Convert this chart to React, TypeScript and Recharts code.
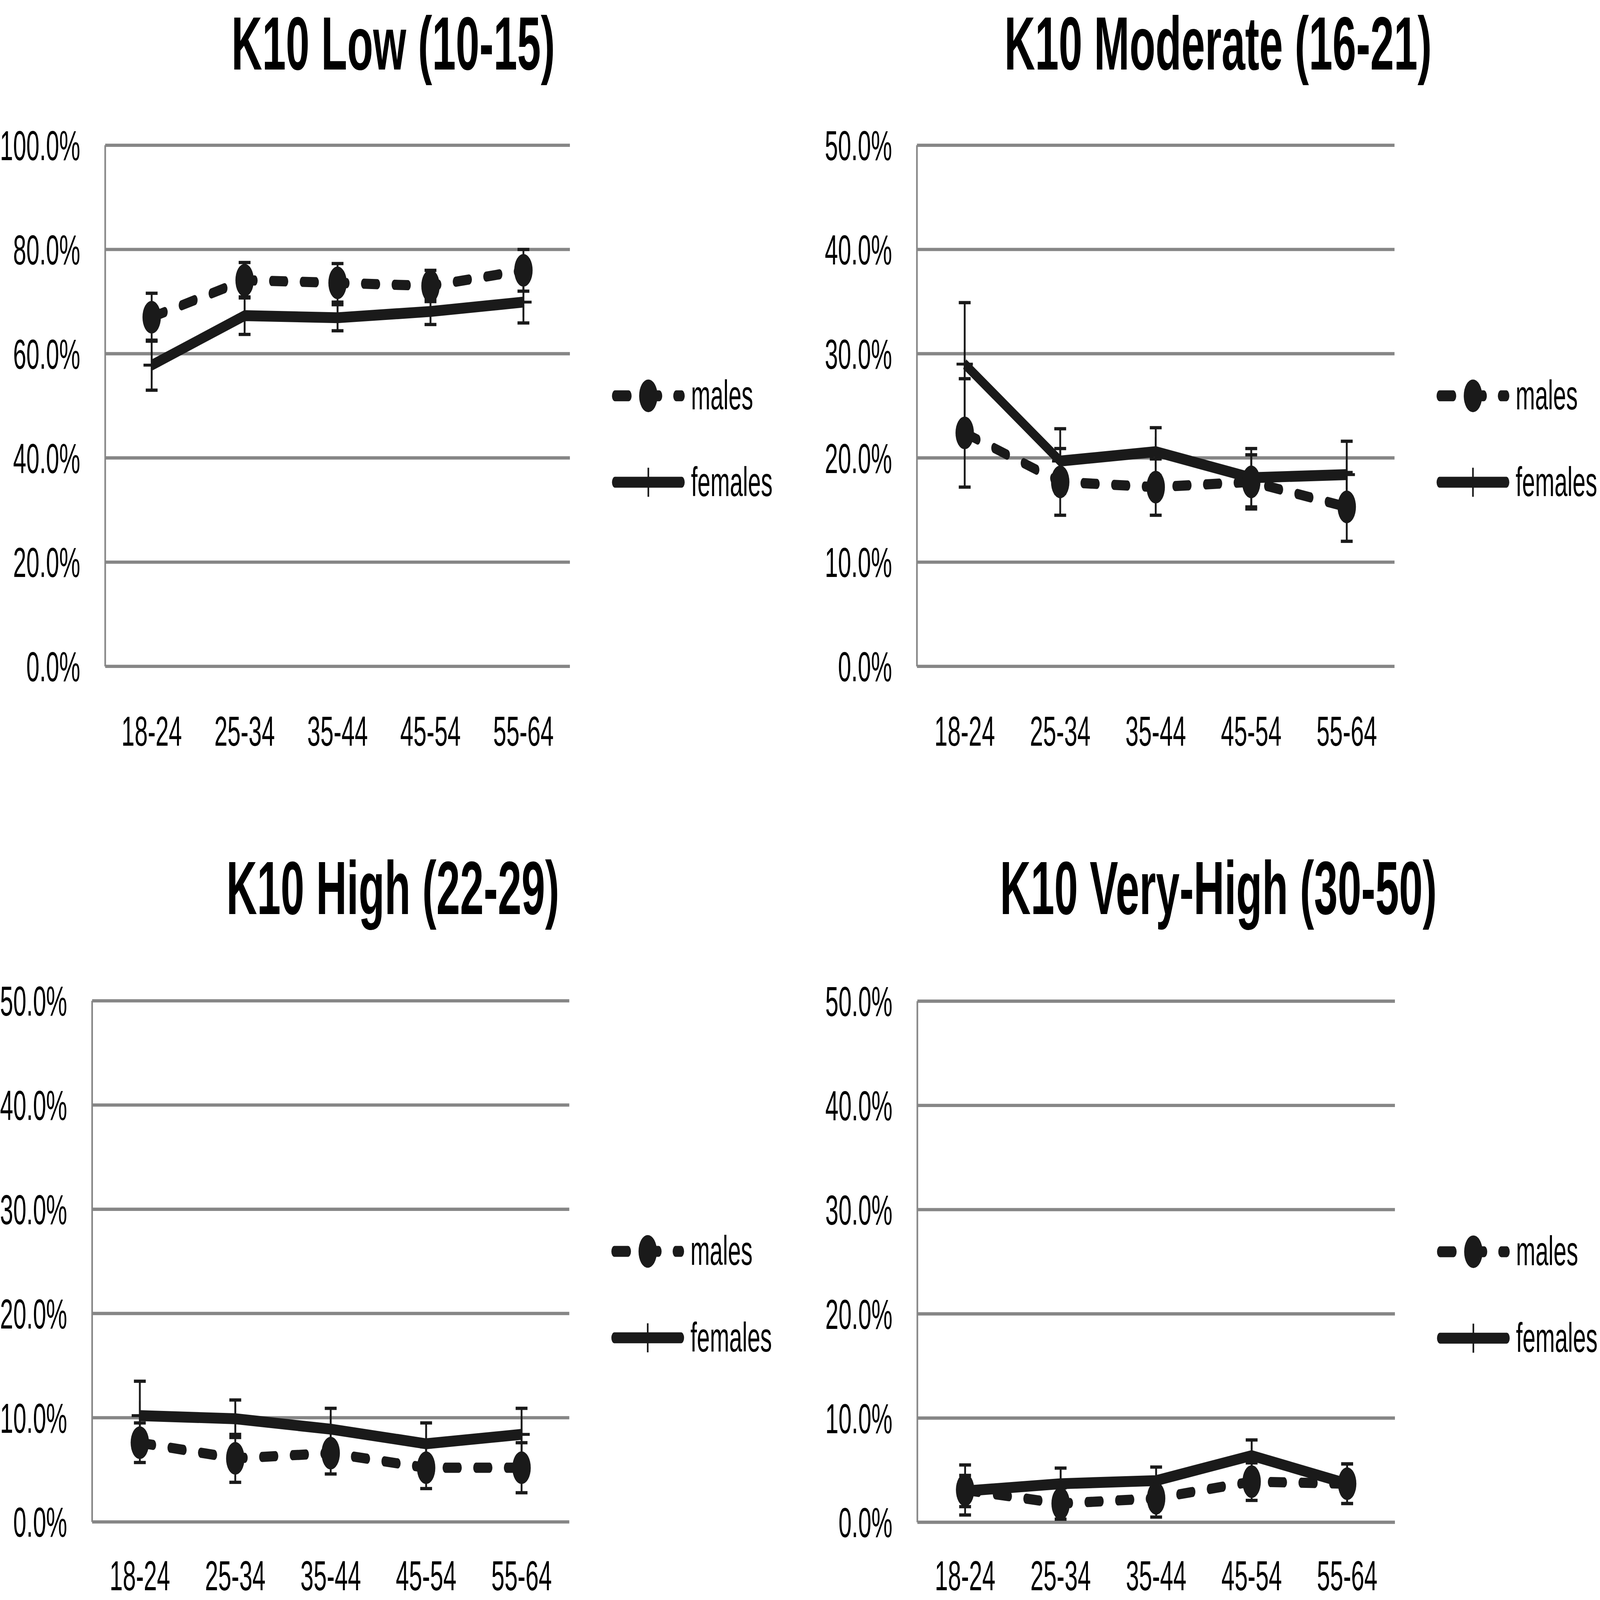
import React from 'react';
import { LineChart, Line, XAxis, YAxis, CartesianGrid, ErrorBar, Legend } from 'recharts';

if (typeof document !== 'undefined') {
  document.body.style.margin = '0';
  document.body.style.overflow = 'hidden';
}

// ---------- data ----------
const ageGroups = ['18-24', '25-34', '35-44', '45-54', '55-64'];

const lowMales = [67.0, 74.1, 73.6, 73.0, 76.0];
const lowMalesErr = [4.6, 3.4, 3.7, 3.0, 4.0];
const lowFemales = [57.8, 67.3, 66.9, 68.1, 69.9];
const lowFemalesErr = [4.8, 3.6, 2.5, 2.5, 4.0];

const modMales = [22.4, 17.7, 17.2, 17.7, 15.3];
const modMalesErr = [5.2, 3.2, 2.7, 2.6, 3.3];
const modFemales = [29.0, 19.7, 20.6, 18.1, 18.4];
const modFemalesErr = [5.9, 3.1, 2.3, 2.8, 3.2];

const highMales = [7.6, 6.1, 6.6, 5.2, 5.2];
const highMalesErr = [1.9, 2.3, 2.0, 2.0, 2.4];
const highFemales = [10.2, 9.9, 8.9, 7.5, 8.4];
const highFemalesErr = [3.3, 1.8, 2.0, 2.0, 2.5];

const vhMales = [3.1, 1.8, 2.3, 3.9, 3.7];
const vhMalesErr = [2.4, 1.5, 1.8, 1.8, 1.9];
const vhFemales = [3.0, 3.7, 4.0, 6.4, 3.7];
const vhFemalesErr = [1.5, 1.5, 1.3, 1.5, 1.9];

const lowTicks = [0, 20, 40, 60, 80, 100];
const otherTicks = [0, 10, 20, 30, 40, 50];

const titles = ['K10 Low (10-15)', 'K10 Moderate (16-21)', 'K10 High (22-29)', 'K10 Very-High (30-50)'];
const seriesNames = ['males', 'females'];

// ---------- styles ----------
const FONT = "'Liberation Sans', Arial, sans-serif";
const INK = '#1a1a1a';
const GRID = '#868686';
const PAGE_W = 7833;
const PAGE_H = 4406;

function buildRows(m: number[], me: number[], f: number[], fe: number[]) {
  return ageGroups.map((age, i) => ({
    age,
    males: m[i],
    malesErr: me[i],
    females: f[i],
    femalesErr: fe[i],
  }));
}

const panels = [
  {
    title: titles[0],
    rows: buildRows(lowMales, lowMalesErr, lowFemales, lowFemalesErr),
    ticks: lowTicks,
    box: { L: 0, T: 0, W: 3900, H: 2200 },
    plot: { x0: 515, x1: 2790, y0: 400, y1: 1835 },
    xTickMargin: 136,
    titleX: 1925,
    titleY: 192,
  },
  {
    title: titles[1],
    rows: buildRows(modMales, modMalesErr, modFemales, modFemalesErr),
    ticks: otherTicks,
    box: { L: 3900, T: 0, W: 3933, H: 2200 },
    plot: { x0: 4489, x1: 6827, y0: 400, y1: 1835 },
    xTickMargin: 136,
    titleX: 5963,
    titleY: 192,
  },
  {
    title: titles[2],
    rows: buildRows(highMales, highMalesErr, highFemales, highFemalesErr),
    ticks: otherTicks,
    box: { L: 0, T: 2200, W: 3900, H: 2206 },
    plot: { x0: 451, x1: 2787, y0: 2756, y1: 4191 },
    xTickMargin: 106,
    titleX: 1923,
    titleY: 2517,
  },
  {
    title: titles[3],
    rows: buildRows(vhMales, vhMalesErr, vhFemales, vhFemalesErr),
    ticks: otherTicks,
    box: { L: 3900, T: 2200, W: 3933, H: 2206 },
    plot: { x0: 4491, x1: 6829, y0: 2757, y1: 4192 },
    xTickMargin: 105,
    titleX: 5965,
    titleY: 2517,
  },
];

const PlusDot = (props: any) => {
  const { cx, cy, index } = props;
  if (cx == null || cy == null) return <g key={`fd${index}`} />;
  return (
    <g key={`fd${index}`}>
      <line x1={cx} y1={cy - 40} x2={cx} y2={cy + 40} stroke={INK} strokeWidth={8} />
      <line x1={cx - 40} y1={cy} x2={cx + 40} y2={cy} stroke={INK} strokeWidth={8} />
    </g>
  );
};

const LegendBox = () => (
  <svg width={800} height={420} style={{ overflow: 'visible', display: 'block' }}>
    <line x1={31} y1={90} x2={357} y2={90} stroke={INK} strokeWidth={30} strokeDasharray="66 84" strokeLinecap="round" />
    <circle cx={194} cy={90} r={45} fill={INK} />
    <text x={403} y={127} fontSize={114} fontFamily={FONT} fill="#000">{seriesNames[0]}</text>
    <line x1={31} y1={328} x2={357} y2={328} stroke={INK} strokeWidth={30} strokeLinecap="round" />
    <line x1={194} y1={288} x2={194} y2={368} stroke={INK} strokeWidth={8} />
    <text x={403} y={366} fontSize={114} fontFamily={FONT} fill="#000">{seriesNames[1]}</text>
  </svg>
);

function Panel({ p }: { p: any }) {
  const { L, T, W, H } = p.box;
  const { x0, x1, y0, y1 } = p.plot;
  const pad = (x1 - x0) / 10;
  const max = p.ticks[p.ticks.length - 1];
  const tickStyle = { fontSize: 116, fill: '#000', fontFamily: FONT };
  return (
    <div style={{ position: 'absolute', left: L, top: T, width: W, height: H }}>
      <LineChart
        width={W}
        height={H}
        data={p.rows}
        margin={{ top: y0 - T, right: L + W - x1, bottom: 0, left: 0 }}
      >
        <CartesianGrid horizontal vertical={false} stroke={GRID} strokeWidth={9} />
        <XAxis
          dataKey="age"
          padding={{ left: pad, right: pad }}
          height={T + H - y1}
          axisLine={false}
          tickLine={false}
          tickSize={0}
          tickMargin={p.xTickMargin}
          interval={0}
          tick={tickStyle}
        />
        <YAxis
          width={x0 - L}
          domain={[0, max]}
          ticks={p.ticks}
          interval={0}
          tickFormatter={(v: number) => `${v.toFixed(1)}%`}
          axisLine={{ stroke: GRID, strokeWidth: 8 }}
          tickLine={false}
          tickSize={0}
          tickMargin={122}
          tick={tickStyle}
        />
        <Line
          dataKey="males"
          name={seriesNames[0]}
          stroke={INK}
          strokeWidth={28}
          strokeDasharray="66 84"
          strokeLinecap="round"
          dot={{ r: 45, fill: INK, stroke: 'none', strokeWidth: 0 }}
          activeDot={false}
          isAnimationActive={false}
        >
          <ErrorBar dataKey="malesErr" direction="y" width={29} strokeWidth={9} stroke={INK} isAnimationActive={false} />
        </Line>
        <Line
          dataKey="females"
          name={seriesNames[1]}
          stroke={INK}
          strokeWidth={30}
          dot={PlusDot}
          activeDot={false}
          isAnimationActive={false}
        >
          <ErrorBar dataKey="femalesErr" direction="y" width={29} strokeWidth={9} stroke={INK} isAnimationActive={false} />
        </Line>
        <Legend
          layout="vertical"
          align="center"
          verticalAlign="middle"
          content={() => <LegendBox />}
          wrapperStyle={{
            position: 'absolute',
            left: x1 + 190 - L,
            top: y0 + 690 - 90 - T,
            width: 800,
            height: 420,
            margin: 0,
            padding: 0,
          }}
        />
      </LineChart>
    </div>
  );
}

export default function App() {
  // The browser viewport may be smaller than the reference size; fit the fixed-size chart into it.
  const vw = typeof window !== 'undefined' && window.innerWidth ? window.innerWidth : PAGE_W;
  const vh = typeof window !== 'undefined' && window.innerHeight ? window.innerHeight : PAGE_H;
  const sx = vw / PAGE_W;
  const sy = vh / PAGE_H;
  return (
    <div style={{ position: 'relative', width: vw, height: vh, overflow: 'hidden', background: '#fff' }}>
      <div
        style={{
          position: 'absolute',
          left: 0,
          top: 0,
          width: PAGE_W,
          height: PAGE_H,
          background: '#fff',
          fontFamily: FONT,
          transform: `scale(${sx}, ${sy})`,
          transformOrigin: '0 0',
        }}
      >
        {panels.map((p, i) => (
          <Panel key={i} p={p} />
        ))}
        <svg
          width={PAGE_W}
          height={PAGE_H}
          style={{ position: 'absolute', left: 0, top: 0, pointerEvents: 'none' }}
        >
          {panels.map((p, i) => (
            <text
              key={i}
              x={p.titleX}
              y={p.titleY}
              textAnchor="middle"
              fontSize={208}
              fontWeight="bold"
              fontFamily={FONT}
              fill="#000"
            >
              {p.title}
            </text>
          ))}
        </svg>
      </div>
    </div>
  );
}
